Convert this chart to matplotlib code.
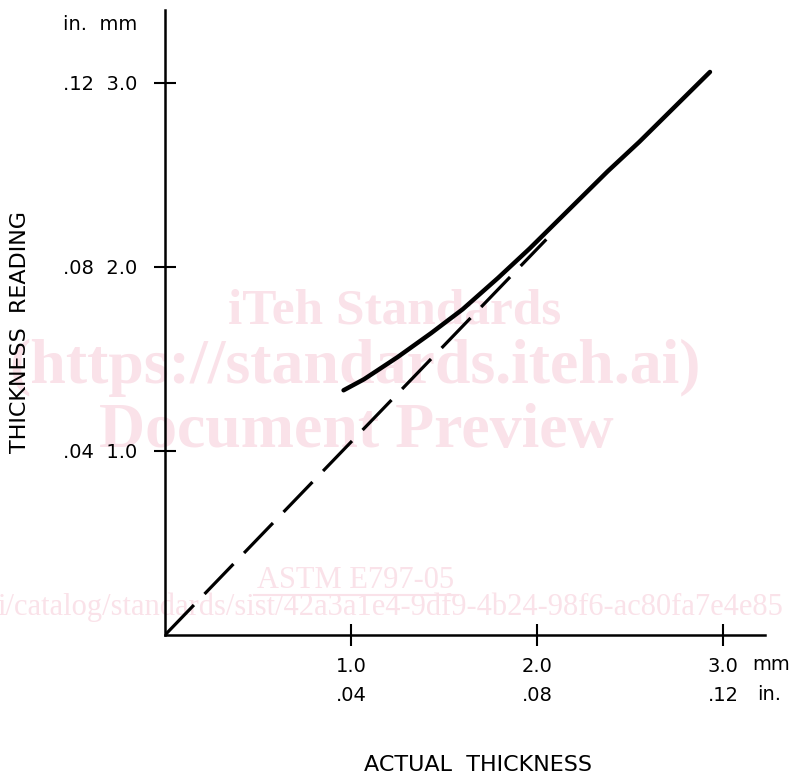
import matplotlib
matplotlib.use('Agg')
import matplotlib.pyplot as plt

plt.rcParams['font.family'] = 'DejaVu Sans'
plt.rcParams['lines.scale_dashes'] = False

# curve (mm)
actual_solid = [0.96, 1.07, 1.25, 1.43, 1.60, 1.79, 1.96, 2.03, 2.19, 2.38, 2.55, 2.73, 2.93]
reading_solid = [1.33, 1.39, 1.51, 1.64, 1.77, 1.94, 2.10, 2.17, 2.33, 2.52, 2.68, 2.86, 3.06]

# ideal response line (dashed)
actual_dash = [0.0, 2.05]
reading_dash = [0.0, 2.15]

tick_mm = [1.0, 2.0, 3.0]
tick_in = ['.04', '.08', '.12']

W, H = 796, 777
fig = plt.figure(figsize=(W / 100, H / 100), dpi=100)
ax = fig.add_axes([165 / W, 142 / H, 600 / W, 625 / H])
ax.patch.set_alpha(0)
ax.set_zorder(2)

# watermark behind the chart
wm = '#fae2e9'
fig.text(395 / W, 1 - 312 / H, 'iTeh Standards', family='Liberation Serif',
         weight='bold', size=37, color=wm, ha='center', va='center', zorder=0)
fig.text(355 / W, 1 - 368 / H, '(https://standards.iteh.ai)', family='Liberation Serif',
         weight='bold', size=46, color=wm, ha='center', va='center', zorder=0)
fig.text(356 / W, 1 - 432 / H, 'Document Preview', family='Liberation Serif',
         weight='bold', size=46, color=wm, ha='center', va='center', zorder=0)
fig.text(356 / W, 1 - 580 / H, 'ASTM E797-05', family='Liberation Serif',
         size=22, color=wm, ha='center', va='center', zorder=0)
fig.lines.append(plt.Line2D([254 / W, 458 / W], [1 - 595 / H, 1 - 595 / H],
                            transform=fig.transFigure, color=wm, lw=1.5, zorder=0))
fig.text(-3 / W, 1 - 607 / H,
         'i/catalog/standards/sist/42a3a1e4-9df9-4b24-98f6-ac80fa7e4e85',
         family='Liberation Serif', size=22, color=wm, ha='left', va='center', zorder=0)

ax.plot(actual_dash, reading_dash, color='black', lw=2.3, linestyle=(0, (30, 11)),
        dash_capstyle='butt')
ax.plot(actual_solid, reading_solid, color='black', lw=3.2, solid_capstyle='round',
        solid_joinstyle='round')

ax.set_xlim(0, 600 / 186)
ax.set_ylim(0, 625 / 184)

for s in ['top', 'right']:
    ax.spines[s].set_visible(False)
for s in ['left', 'bottom']:
    ax.spines[s].set_linewidth(1.8)

ax.set_xticks(tick_mm)
ax.set_xticklabels(['%.1f\n%s' % (m, i) for m, i in zip(tick_mm, tick_in)],
                   linespacing=1.65)
ax.set_yticks(tick_mm)
ax.set_yticklabels(['%s  %.1f' % (i, m) for m, i in zip(tick_mm, tick_in)])
ax.tick_params(direction='inout', length=16, width=1.5, labelsize=14)
ax.tick_params(axis='x', pad=8)
ax.tick_params(axis='y', pad=12)

fig.text(137 / W, 1 - 25 / H, 'in.  mm', size=14, ha='right', va='center')
fig.text(752 / W, 1 - 665 / H, 'mm', size=14, ha='left', va='center')
fig.text(757 / W, 1 - 695 / H, 'in.', size=14, ha='left', va='center')

fig.text(478 / W, 1 - 765 / H, 'ACTUAL  THICKNESS', size=16, ha='center', va='center')
fig.text(20 / W, 1 - 332 / H, 'THICKNESS  READING', size=16, rotation=90,
         ha='center', va='center')

plt.savefig('out.png', dpi=100)
